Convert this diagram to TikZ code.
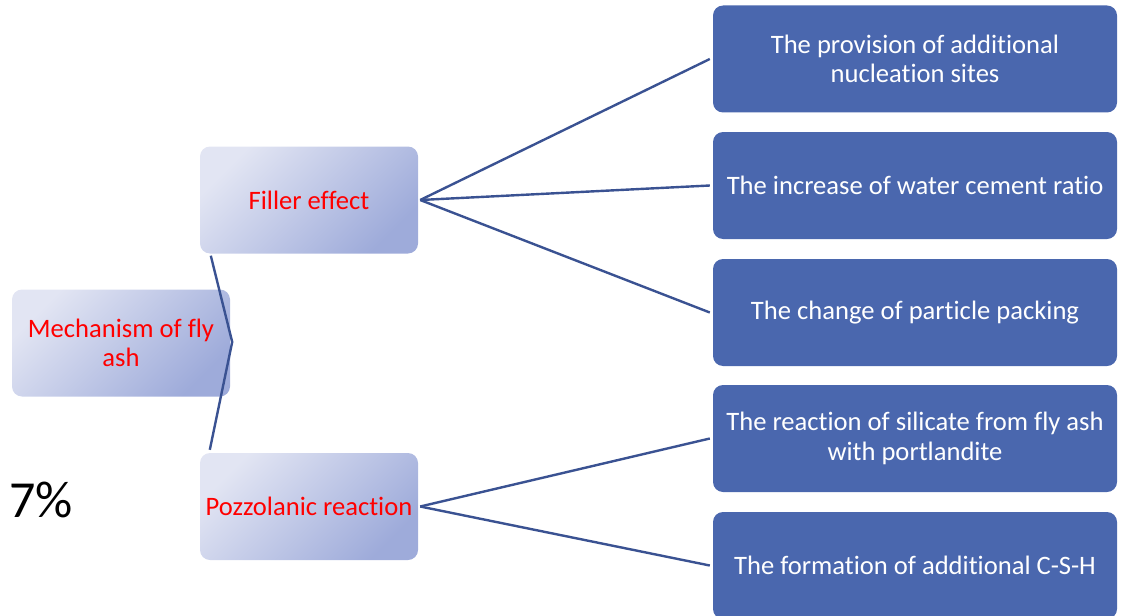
\documentclass[tikz,border=0pt]{standalone}
\usepackage{fontspec}
\setmainfont{Carlito}[Ligatures=NoCommon]
\usetikzlibrary{calc}
\definecolor{gradA}{RGB}{226,229,243}
\definecolor{gradB}{RGB}{158,171,218}
\definecolor{boxblue}{RGB}{74,103,174}
\definecolor{linkblue}{RGB}{58,82,146}
\begin{document}
\begin{tikzpicture}[x=1pt,y=-1pt,
  gradbox/.style={rectangle, rounded corners=10pt, top color=gradA, bottom color=gradB, shading angle=45,
    minimum width=218pt, minimum height=107pt, align=center, text=red, inner sep=2pt,
    font=\fontsize{26.6}{29.5}\selectfont},
  bluebox/.style={rectangle, rounded corners=10pt, fill=boxblue, minimum width=404pt, minimum height=107pt,
    align=center, text=white, inner sep=2pt, font=\fontsize{26.6}{29.5}\selectfont},
  conn/.style={draw=linkblue, line width=2.4pt}]
\useasboundingbox (0,0) rectangle (1123,615);
\node[gradbox] (root) at (121,343) {Mechanism of fly\\ash};
\node[gradbox] (filler) at (309,200) {Filler effect};
\node[gradbox] (pozz) at (309,506.5) {Pozzolanic reaction};
\node[bluebox] (r1) at (915,59) {The provision of additional\\nucleation sites};
\node[bluebox] (r2) at (915,185.5) {The increase of water cement ratio};
\node[bluebox] (r3) at (915,312.5) {The change of particle packing};
\node[bluebox] (r4) at (915,438.5) {The reaction of silicate from fly ash\\with portlandite};
\node[bluebox] (r5) at (915,565.5) {The formation of additional C-S-H};
\node[font=\fontsize{52}{60}\selectfont, anchor=center] (pct) at (41,500) {7\%};
\coordinate (ft) at ($(filler.south west)+(11,2)$);
\coordinate (pb) at ($(pozz.north west)+(10,-3)$);
\coordinate (j) at ($(root.east)+(2,-1)$);
\draw[conn, line join=miter] (ft) -- (j) -- (pb);
\foreach \r in {r1,r2,r3}{\draw[conn] ($(filler.east)+(2,0)$) -- ($(\r.west)+(-3,0)$);}
\foreach \r in {r4,r5}{\draw[conn] ($(pozz.east)+(2,0)$) -- ($(\r.west)+(-3,0)$);}
\end{tikzpicture}
\end{document}
